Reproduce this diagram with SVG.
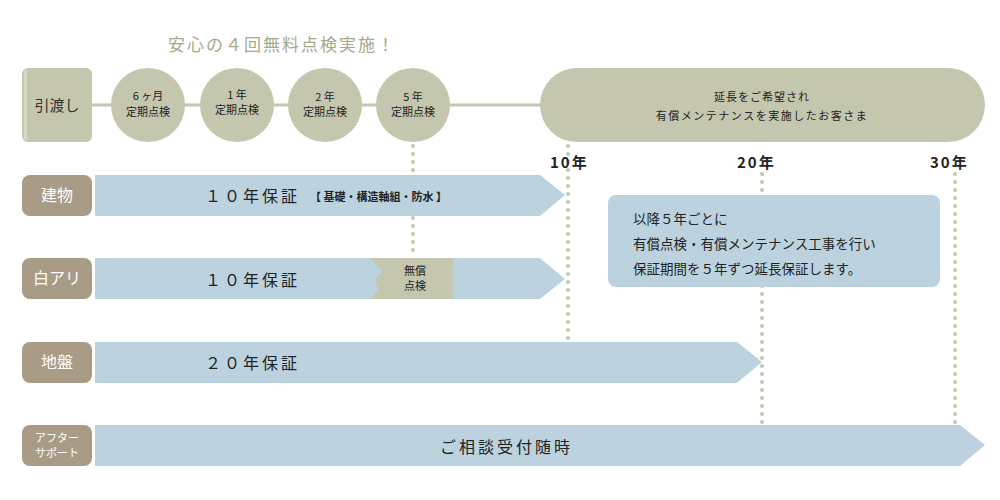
<svg xmlns="http://www.w3.org/2000/svg" width="1000" height="500" viewBox="0 0 1000 500">
<style>
text{font-family:"Noto Sans CJK JP","Noto Sans",sans-serif;}
.g{fill:#c4c6ae}.b{fill:#bcd3df}.lab{fill:#a99c86}
.lt{fill:#fff;font-size:16px}
.ct{fill:#222;font-size:11px;text-anchor:middle}
.bt{fill:#222;font-size:16px;letter-spacing:3px}
.yr{fill:#222;font-size:15px;font-weight:bold;letter-spacing:2px}
.dot{stroke:#c4c6ae;stroke-width:4;stroke-linecap:round;stroke-dasharray:0 8;fill:none}
</style>
<rect width="1000" height="500" fill="#fff"/>
<text x="168" y="51" font-size="17" fill="#a5aa8c" letter-spacing="2">安心の４回無料点検実施！</text>
<g id="connectors">
<line x1="92" y1="105" x2="560" y2="105" stroke="#c4c6ae" stroke-width="3"/>
<line class="dot" x1="413" y1="146" x2="413" y2="256"/>
<line class="dot" x1="568" y1="146" x2="568" y2="340"/>
<line class="dot" x1="762" y1="174" x2="762" y2="424"/>
<line class="dot" x1="955" y1="174" x2="955" y2="424"/>
</g>
<g id="hikiwatashi"><rect class="g" x="22" y="68" width="70" height="74" rx="6"/><rect x="24" y="70" width="3" height="70" fill="#d6d8c4"/><text x="57" y="111" font-size="15" fill="#333" text-anchor="middle">引渡し</text></g>
<g id="c1"><circle class="g" cx="148" cy="105" r="37"/><text class="ct" x="148" y="100">6 ヶ月</text><text class="ct" x="148" y="116">定期点検</text></g>
<g id="c2"><circle class="g" cx="237" cy="105" r="37"/><text class="ct" x="237" y="99">1 年</text><text class="ct" x="237" y="114">定期点検</text></g>
<g id="c3"><circle class="g" cx="325" cy="105" r="37"/><text class="ct" x="325" y="101">2 年</text><text class="ct" x="325" y="116">定期点検</text></g>
<g id="c4"><circle class="g" cx="413" cy="105" r="37"/><text class="ct" x="413" y="101">5 年</text><text class="ct" x="413" y="116">定期点検</text></g>
<g id="pill"><rect class="g" x="540" y="68" width="445" height="74" rx="37"/><text class="ct" x="762" y="101" font-size="12" letter-spacing="1">延長をご希望され</text><text class="ct" x="762" y="120" font-size="12" letter-spacing="1.5">有償メンテナンスを実施したお客さま</text></g>
<g id="years"><text class="yr" x="550" y="168">10年</text><text class="yr" x="737" y="168">20年</text><text class="yr" x="930" y="168">30年</text></g>
<g id="tatemono"><rect class="lab" x="22" y="175" width="70" height="41" rx="8"/><text class="lt" x="57" y="201" text-anchor="middle">建物</text>
<polygon class="b" points="95,175 540,175 565,195 540,216 95,216"/>
<text class="bt" x="205" y="202">１０年保証</text><text x="310" y="201" font-size="11" fill="#222" font-weight="bold">【 基礎・構造軸組・防水 】</text></g>
<g id="shiroari"><rect class="lab" x="22" y="258" width="70" height="41" rx="8"/><text class="lt" x="57" y="284" text-anchor="middle">白アリ</text>
<polygon class="b" points="95,258 540,258 565,279 540,299 95,299"/>
<polygon class="g" points="370,258 453,258 453,299 370,299 378,290 375,280 382,272 376,264"/>
<text x="415" y="275" font-size="11" fill="#222" text-anchor="middle">無償</text><text x="415" y="290" font-size="11" fill="#222" text-anchor="middle">点検</text>
<text class="bt" x="205" y="286">１０年保証</text></g>
<g id="jiban"><rect class="lab" x="22" y="342" width="70" height="41" rx="8"/><text class="lt" x="57" y="368" text-anchor="middle">地盤</text>
<polygon class="b" points="95,342 737,342 762,362 737,383 95,383"/>
<text class="bt" x="205" y="369">２０年保証</text></g>
<g id="after"><rect class="lab" x="22" y="425" width="70" height="41" rx="8"/><text x="57" y="442" font-size="11" fill="#fff" text-anchor="middle">アフター</text><text x="57" y="457" font-size="11" fill="#fff" text-anchor="middle">サポート</text>
<polygon class="b" points="95,425 960,425 985,445 960,466 95,466"/>
<text x="440" y="453" font-size="16" fill="#222" letter-spacing="3">ご相談受付随時</text></g>
<g id="info"><rect class="b" x="608" y="195" width="332" height="92" rx="8"/>
<text x="633" y="224" font-size="13.5" fill="#222">以降５年ごとに</text>
<text x="633" y="249" font-size="13.5" fill="#222">有償点検・有償メンテナンス工事を行い</text>
<text x="633" y="274" font-size="13.5" fill="#222">保証期間を５年ずつ延長保証します。</text></g>
</svg>
